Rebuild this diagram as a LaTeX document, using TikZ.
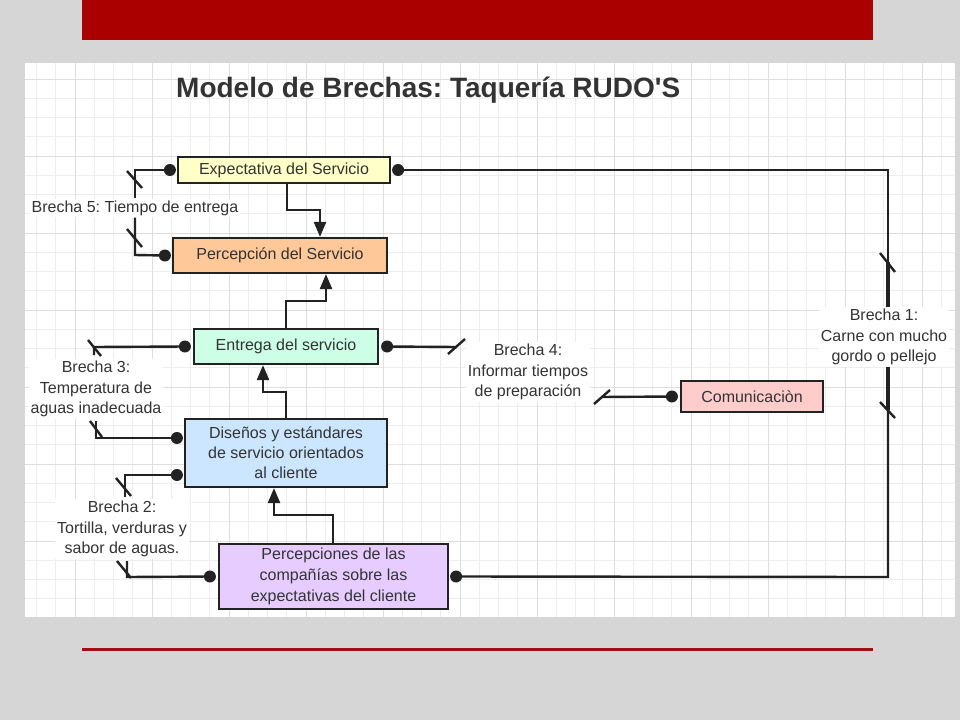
\documentclass[tikz,border=0pt]{standalone}
\usepackage{fontspec}
\setmainfont{Liberation Sans}
\usetikzlibrary{arrows.meta}
\definecolor{bgc}{HTML}{D6D6D6}
\definecolor{barred}{HTML}{AA0000}
\definecolor{linered}{HTML}{A01010}
\definecolor{gridminor}{HTML}{EDEDED}
\definecolor{gridmajor}{HTML}{DEDEDE}
\definecolor{linec}{HTML}{222222}
\definecolor{txt}{HTML}{333333}
\definecolor{cyellow}{HTML}{FFFFC8}
\definecolor{corange}{HTML}{FFC898}
\definecolor{cmint}{HTML}{CCFFE6}
\definecolor{cblue}{HTML}{CCE6FF}
\definecolor{clav}{HTML}{E6CCFF}
\definecolor{cpink}{HTML}{FFCCCC}
\frenchspacing
\begin{document}
\begin{tikzpicture}[x=1pt,y=-1pt,
  box/.style={draw=linec, line width=2.2pt, inner sep=0pt, text=txt,
    font=\fontsize{16}{20}\selectfont, align=center},
  conn/.style={draw=linec, line width=2.4pt},
  thickconn/.style={draw=linec, line width=4pt},
  slashmark/.style={draw=linec, line width=2.4pt},
  arr/.style={draw=linec, line width=2.4pt, -{Triangle[length=15pt,width=12pt]}},
  lbl/.style={fill=white, text=txt, font=\fontsize{16}{20.5}\selectfont, align=center, inner sep=2pt},
  dotc/.style={fill=linec}]
\useasboundingbox (0,0) rectangle (960,720);
\fill[bgc] (0,0) rectangle (960,720);
% top red bar and bottom red line
\fill[barred] (82,0) rectangle (873,40);
\fill[linered] (82,647.5) rectangle (873,651);
% white panel with grid
\fill[white] (25,63) rectangle (955,617);
\foreach \i in {-6,...,41} {
  \draw[gridminor, line width=0.8pt] ({152+19.25*\i},63) -- ({152+19.25*\i},617);
}
\foreach \j in {0,...,27} {
  \draw[gridminor, line width=0.8pt] (25,{79+19.25*\j}) -- (955,{79+19.25*\j});
}
\foreach \i in {-1,...,10} {
  \draw[gridmajor, line width=1pt] ({152+77*\i},63) -- ({152+77*\i},617);
}
\foreach \j in {0,...,6} {
  \draw[gridmajor, line width=1pt] (25,{79+77*\j}) -- (955,{79+77*\j});
}
% title
\node[anchor=base west, inner sep=0pt, text=txt, font=\fontsize{28}{32}\selectfont\bfseries] (title) at (176,97) {Modelo de Brechas: Taquería RUDO\textquotesingle S};
% boxes
\node[box, fill=cyellow, minimum width=212pt, minimum height=26pt] (exp) at (284,170) {Expectativa del Servicio};
\node[box, fill=corange, minimum width=214pt, minimum height=35pt] (perc) at (280,255.5) {Percepción del Servicio};
\node[box, fill=cmint, minimum width=184pt, minimum height=35pt] (ent) at (286,346.5) {Entrega del servicio};
\node[box, fill=cblue, minimum width=202pt, minimum height=68pt] (dis) at (286,453) {Diseños y estándares\\de servicio orientados\\al cliente};
\node[box, fill=clav, minimum width=229pt, minimum height=65pt, font=\fontsize{16}{21}\selectfont] (pcs) at (333.5,576.5) {Percepciones de las\\compañías sobre las\\expectativas del cliente};
\node[box, fill=cpink, minimum width=142pt, minimum height=31pt] (com) at (752,396.5) {Comunicaciòn};
% dot coordinates
\coordinate (dexpl) at ([xshift=-7pt]exp.west);
\coordinate (dexpr) at ([xshift=7pt]exp.east);
\coordinate (dperc) at ([xshift=-7pt]perc.west);
\coordinate (dentl) at ([xshift=-8pt]ent.west);
\coordinate (dentr) at ([xshift=8pt]ent.east);
\coordinate (ddis1) at ([xshift=-7pt,yshift=15pt]dis.west);
\coordinate (ddis2) at ([xshift=-7pt,yshift=-22pt]dis.west);
\coordinate (dpcsl) at ([xshift=-8pt]pcs.west);
\coordinate (dpcsr) at ([xshift=7pt]pcs.east);
\coordinate (dcom) at ([xshift=-8pt]com.west);
% labels
\node[lbl] (b5) at (135,208) {Brecha 5: Tiempo de entrega};
\node[lbl] (b1) at (884,337) {Brecha 1:\\Carne con mucho\\gordo o pellejo};
\node[lbl] (b4) at (528,372) {Brecha 4:\\Informar tiempos\\de preparación};
\node[lbl] (b3) at (96,389) {Brecha 3:\\Temperatura de\\aguas inadecuada};
\node[lbl] (b2) at (122,529) {Brecha 2:\\Tortilla, verduras y\\sabor de aguas.};
% flow arrows
\draw[arr] (exp.south -| 287,0) -- (287,210) -- (320,210) -- (perc.north -| 320,0);
\draw[arr] (ent.north -| 286,0) -- (286,301) -- (326,301) -- (perc.south -| 326,0);
\draw[arr] (dis.north -| 286,0) -- (286,392) -- (263,392) -- (ent.south -| 263,0);
\draw[arr] (pcs.north -| 333,0) -- (333,515) -- (274,515) -- (dis.south -| 274,0);
% Brecha 5
\draw[conn] (dexpl) -- (135,170) -- (b5.north -| 135,0);
\draw[slashmark] (127,171) -- (142,188);
\draw[conn] (dperc) -- (135,255) -- (b5.south -| 135,0);
\draw[slashmark] (127,229) -- (142,247);
% Brecha 1
\coordinate (k1) at (888,262);
\coordinate (k2) at (888,410);
\draw[conn] (dexpr) -- (888,170) -- (k1);
\draw[thickconn] (k1) -- (b1.north -| k1);
\draw[slashmark] (880,253) -- (895,272);
\draw[conn] (dpcsr) -- (888,577) -- (k2);
\draw[thickconn] (k2) -- (b1.south -| k2);
\draw[slashmark] (880,402) -- (895,418);
% Brecha 4
\coordinate (k4a) at (457,347);
\coordinate (k4b) at (601,397);
\draw[conn] (dentr) -- (k4a);
\draw[slashmark] (448,354) -- (465,339);
\draw[conn] (dcom) -- (k4b);
\draw[slashmark] (594,404) -- (610,390);
% Brecha 3
\coordinate (k3a) at (94,355);
\coordinate (k3b) at (96,421);
\draw[conn] (dentl) -- (94,347) -- (k3a);
\draw[slashmark] (88,340) -- (101,356);
\draw[conn] (ddis1) -- (96,438) -- (k3b);
\draw[slashmark] (90,421) -- (102,437);
% Brecha 2
\coordinate (k2a) at (125,497);
\coordinate (k2b) at (127,561);
\draw[conn] (ddis2) -- (125,475) -- (k2a);
\draw[slashmark] (116,478) -- (131,496);
\draw[conn] (dpcsl) -- (127,577) -- (k2b);
\draw[slashmark] (117,561) -- (131,578);
% dots
\foreach \d in {dexpl,dexpr,dperc,dentl,dentr,ddis1,ddis2,dpcsl,dpcsr,dcom} {
  \fill[dotc] (\d) circle (6pt);
}
\end{tikzpicture}
\end{document}
